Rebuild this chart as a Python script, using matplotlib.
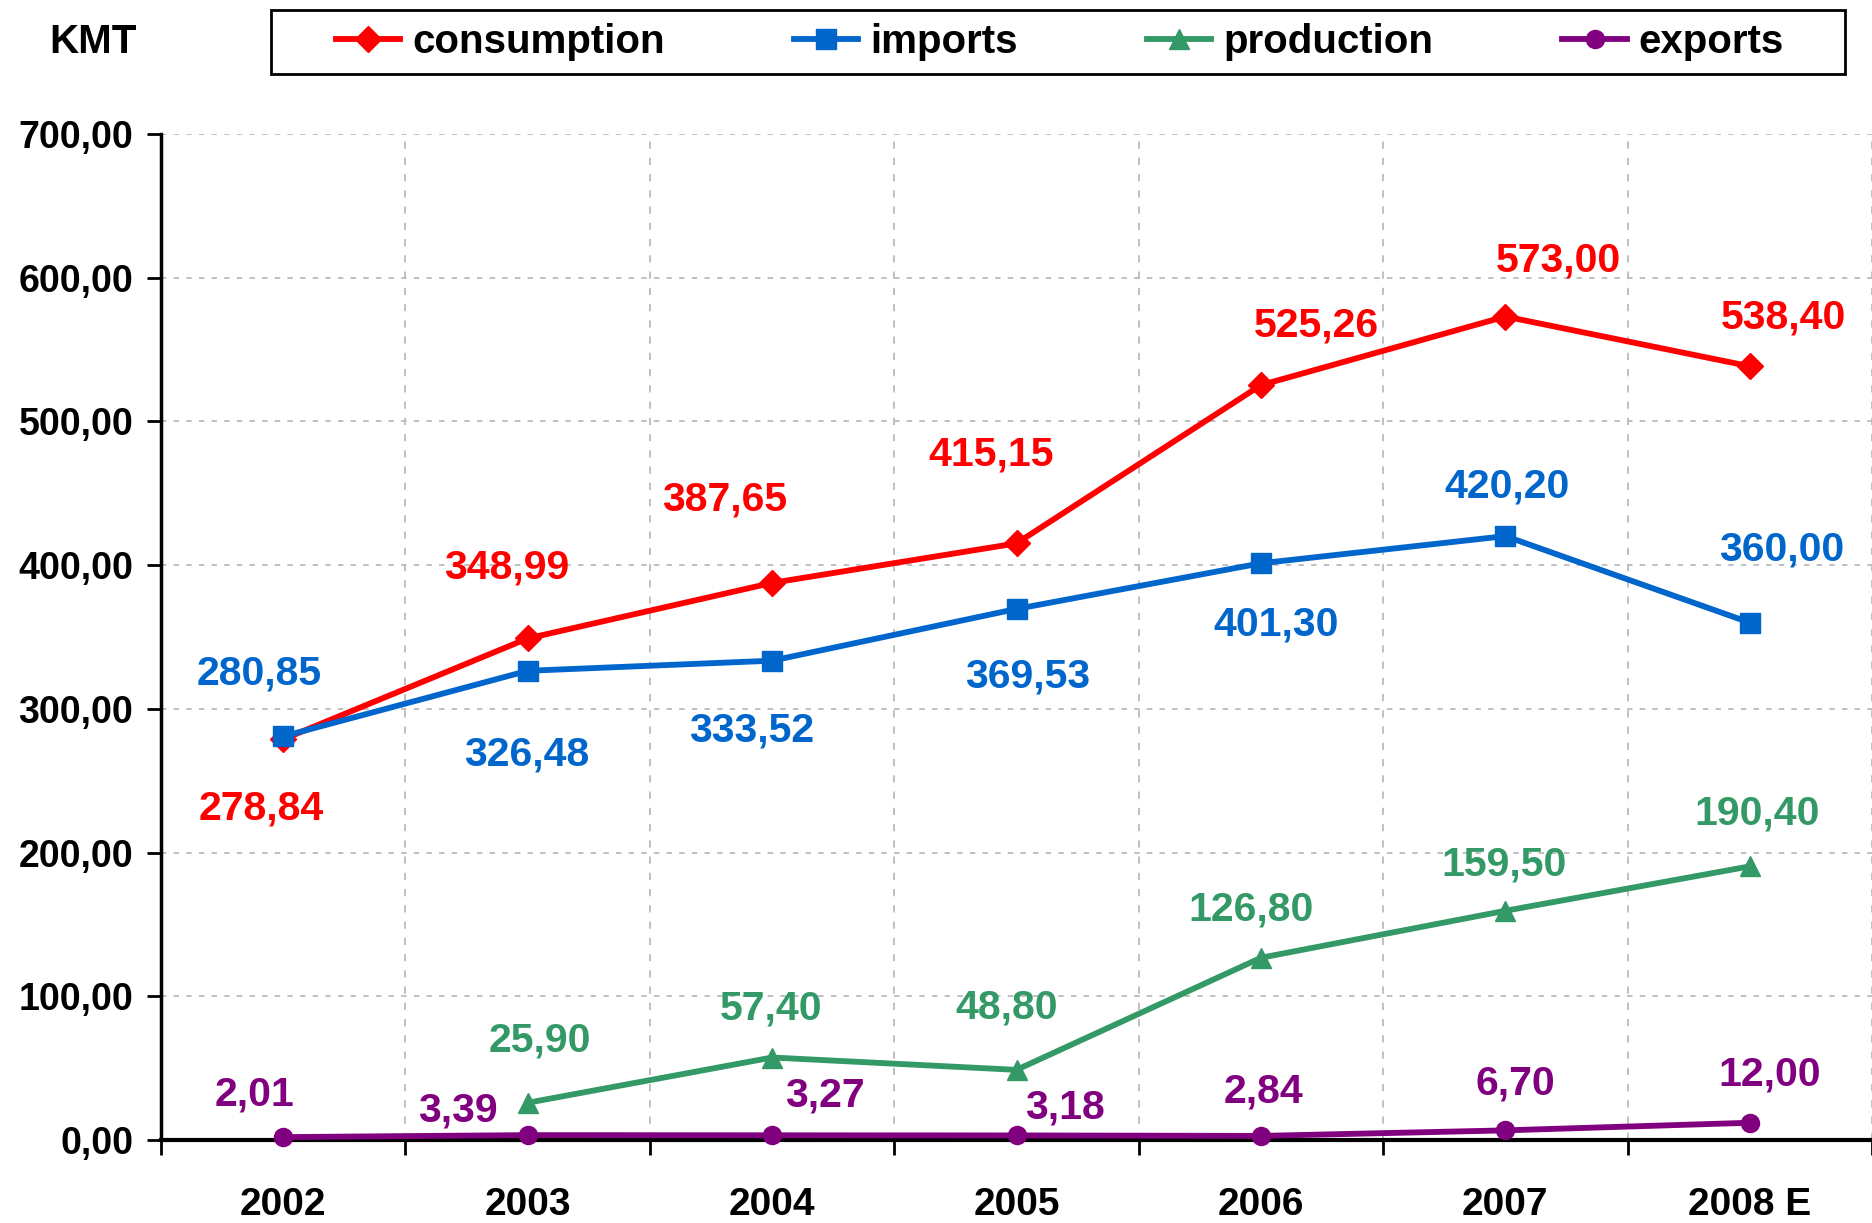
import matplotlib
matplotlib.use("Agg")
import matplotlib.pyplot as plt
from matplotlib.patches import Rectangle
import numpy as np

plt.rcParams["font.family"] = ["Liberation Sans", "DejaVu Sans"]
plt.rcParams["font.weight"] = "bold"

years = ["2002", "2003", "2004", "2005", "2006", "2007", "2008 E"]
consumption = [278.84, 348.99, 387.65, 415.15, 525.26, 573.00, 538.40]
imports = [280.85, 326.48, 333.52, 369.53, 401.30, 420.20, 360.00]
production = [np.nan, 25.90, 57.40, 48.80, 126.80, 159.50, 190.40]
exports = [2.01, 3.39, 3.27, 3.18, 2.84, 6.70, 12.00]

# label offsets in points (dx, dy) relative to each point
offCons = [(-16, -50), (-15, 51), (-34, 60), (-18, 64), (40, 43), (38, 40), (24, 35)]
offImp = [(-17, 45), (-1, -60), (-15, -50), (8, -49), (11, -44), (1, 36), (23, 53)]
offProd = [None, (9, 45), (-1, 35), (-7, 45), (-7, 35), (-1, 33), (5, 38)]
offExp = [(-21, 31), (-50, 18), (38, 29), (35, 20), (2, 32), (7, 34), (14, 35)]

series = [
    ("consumption", consumption, "#FF0000", "D", 13, offCons),
    ("imports", imports, "#0066CC", "s", 14, offImp),
    ("production", production, "#339966", "^", 15, offProd),
    ("exports", exports, "#800080", "o", 13, offExp),
]

fig = plt.figure(figsize=(18.72, 12.23), dpi=100)
ax = fig.add_axes([161 / 1872, 1 - 1140 / 1223, 1 - 161 / 1872, (1140 - 134) / 1223])

x = np.arange(len(years))
handles = []
for name, vals, col, mk, ms, offs in series:
    (h,) = ax.plot(x, vals, color=col, lw=4.2, marker=mk, markersize=ms,
                   label=name, clip_on=False, zorder=3)
    handles.append(h)
    for i, v in enumerate(vals):
        if offs[i] is None or np.isnan(v):
            continue
        ax.annotate(f"{v:.2f}".replace(".", ","), (i, v), xytext=offs[i],
                    textcoords="offset points", ha="center", va="center",
                    color=col, fontsize=29.5, fontweight="bold", zorder=4)

ax.set_xlim(-0.5, 6.5)
ax.set_ylim(0, 700)
ax.set_yticks(range(0, 701, 100))
ax.set_yticklabels([f"{v},00" for v in range(0, 701, 100)])
ax.set_xticks(x)
ax.set_xticklabels(years)
ax.set_xticks(np.arange(-0.5, 7, 1), minor=True)
ax.tick_params(axis="x", which="major", length=0, pad=34, labelsize=28)
ax.tick_params(axis="x", which="minor", length=11, width=2, direction="out")
ax.tick_params(axis="y", length=10, width=2, pad=10, labelsize=27)

for s in ["top", "right"]:
    ax.spines[s].set_visible(False)
ax.spines["left"].set_linewidth(2.5)
ax.spines["bottom"].set_linewidth(3)

ax.grid(axis="y", color="#BBBBBB", linestyle=(0, (3, 4)), lw=1.3)
ax.grid(axis="x", which="minor", color="#BBBBBB", linestyle=(0, (4, 5)), lw=1.3)
ax.set_axisbelow(True)

fig.text(93 / 1872, 1 - 42 / 1223, "KMT", ha="center", va="center",
         fontsize=29, fontweight="bold")

# legend frame drawn separately, legend centred inside it
fig.patches.append(Rectangle((271 / 1872, 1 - 74 / 1223), (1845 - 271) / 1872, 64 / 1223,
                             transform=fig.transFigure, fill=False,
                             edgecolor="black", lw=2))
leg = fig.legend(handles=handles, loc="center", ncol=4,
                 bbox_to_anchor=(1060 / 1872, 1 - 42 / 1223),
                 fontsize=29, frameon=False, handlelength=1.6,
                 handletextpad=0.3, columnspacing=3.2, markerscale=1.0)

fig.savefig("out.png", dpi=100)
